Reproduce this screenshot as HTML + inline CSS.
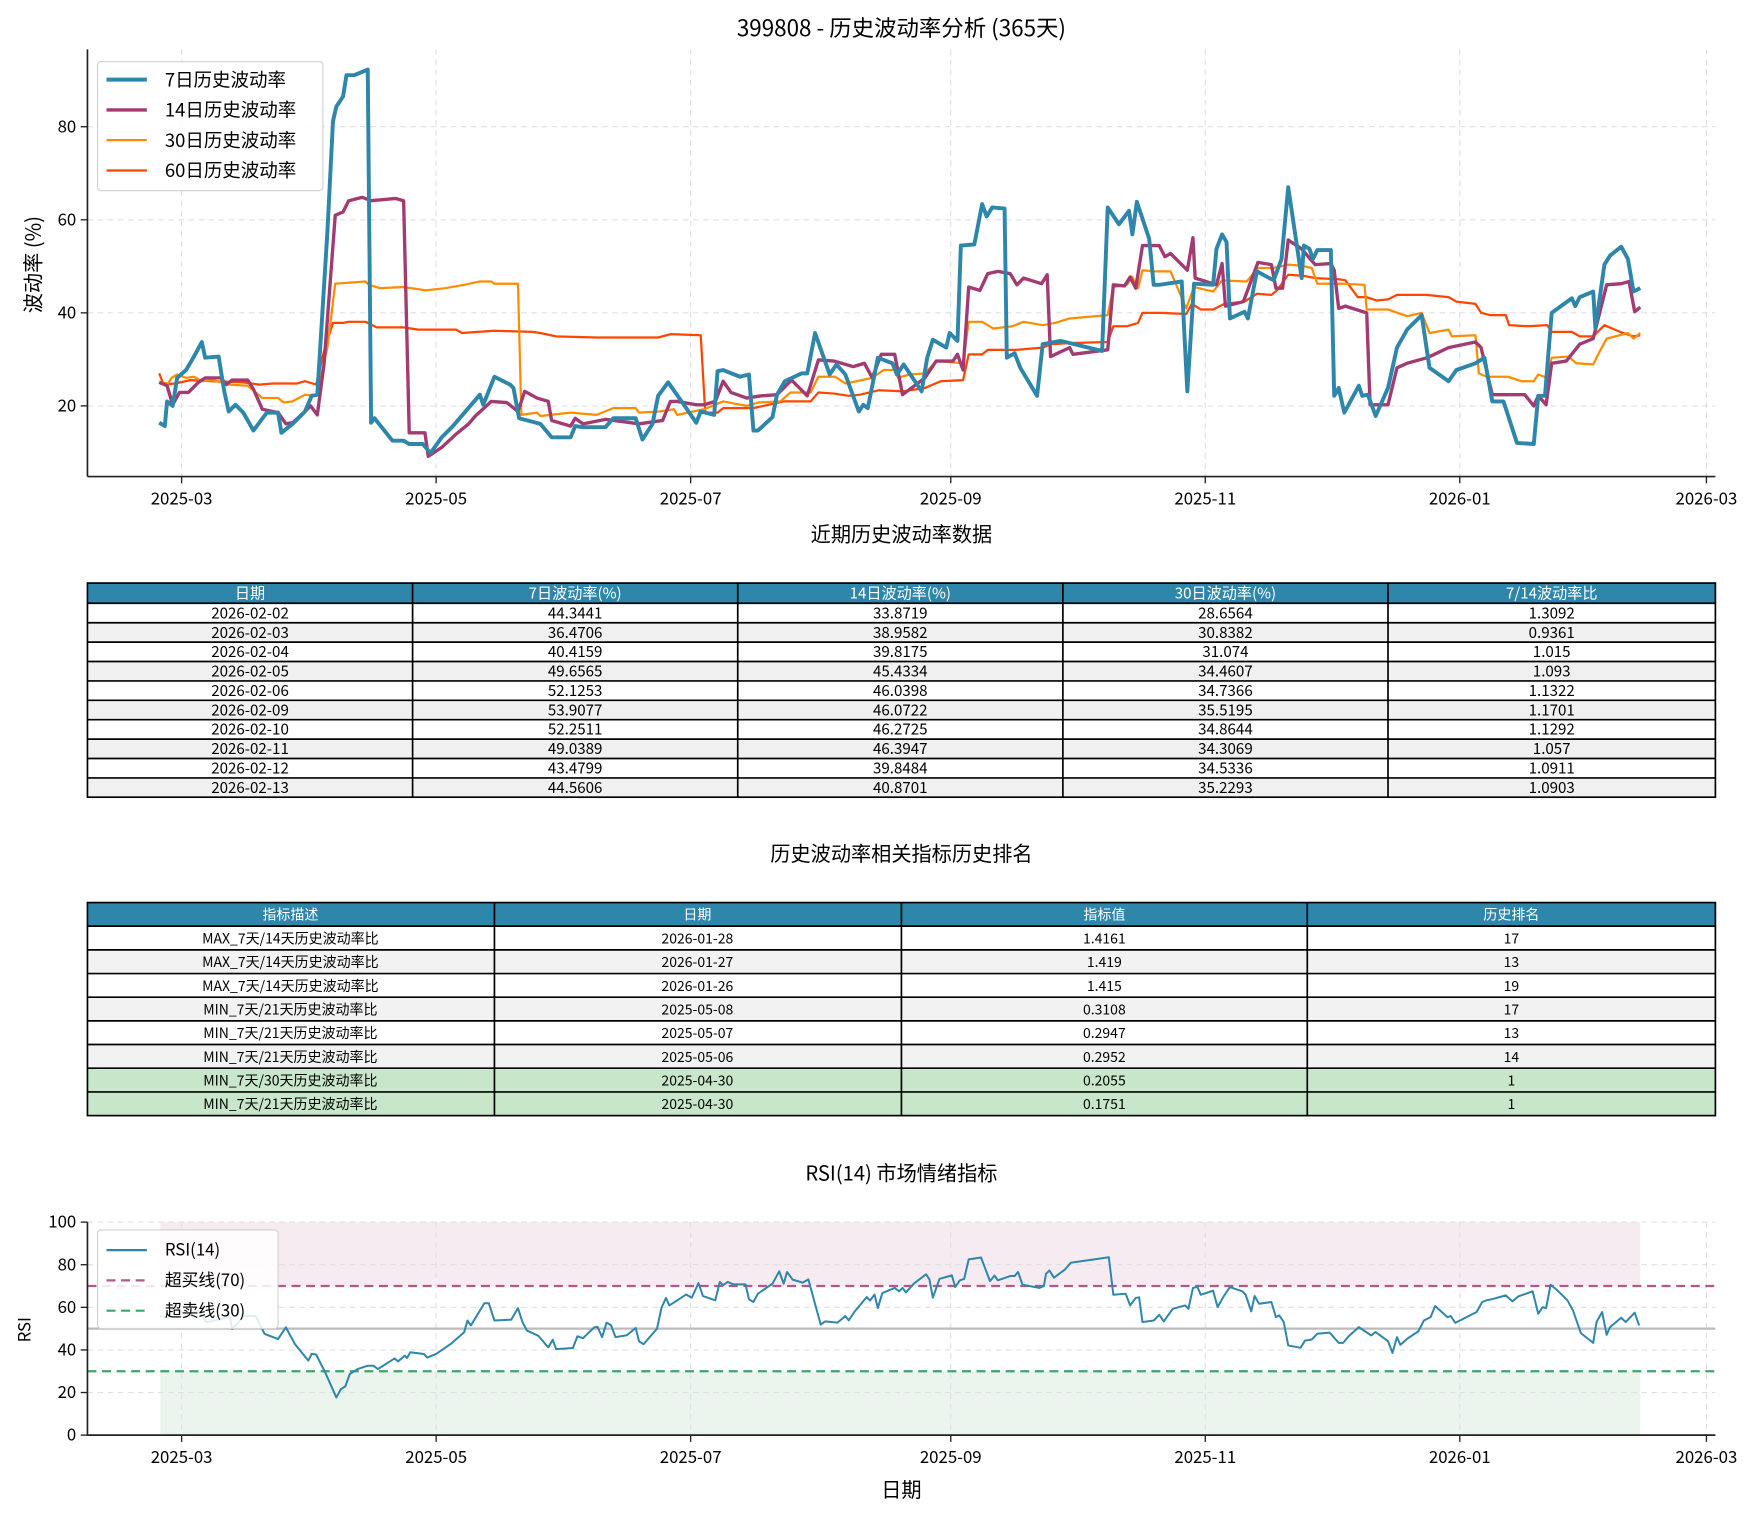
<!DOCTYPE html>
<html><head><meta charset="utf-8"><style>
html,body{margin:0;padding:0;background:#fff;}
svg{display:block;font-family:"WenQuanYi Zen Hei","Noto Sans CJK SC","Liberation Sans",sans-serif;}
</style></head><body>
<svg width="1758" height="1515" viewBox="0 0 1568 1351.2" xmlns="http://www.w3.org/2000/svg">
<rect width="1568" height="1351.2" fill="#fff"/>
<!-- TOP CHART -->
<text x="804" y="32" font-size="20" text-anchor="middle" fill="#000">399808 - 历史波动率分析 (365天)</text>
<g stroke="#e0e0e0" stroke-width="1" stroke-dasharray="5,4">
<line x1="162" y1="44" x2="162" y2="425"/><line x1="389" y1="44" x2="389" y2="425"/><line x1="616" y1="44" x2="616" y2="425"/><line x1="848" y1="44" x2="848" y2="425"/><line x1="1075" y1="44" x2="1075" y2="425"/><line x1="1302" y1="44" x2="1302" y2="425"/><line x1="1522" y1="44" x2="1522" y2="425"/>
<line x1="78" y1="113" x2="1530" y2="113"/><line x1="78" y1="196" x2="1530" y2="196"/><line x1="78" y1="279" x2="1530" y2="279"/><line x1="78" y1="362" x2="1530" y2="362"/>
</g>
<g fill="none" stroke-linejoin="round">
<polyline stroke="#ff4500" stroke-width="2" points="142,333 146,343 156,342 170,339 190,340 217,341 231,343 244,342 265,342 272,340 282,343 289,313 297,288 306,288 311,287 326,287 336,292 360,292 373,294 407,294 412,297 441,295 475,296 482,297 496,300 532,301 553,301 587,301 598,298 625,299 629,368 640,368 645,364 672,364 699,358 723,358 730,350 744,351 757,353 767,352 784,348 805,349 825,346 839,340 859,339 864,316 876,316 881,312 906,312 930,310 937,307 954,306 988,305 993,291 1005,291 1015,288 1019,279 1036,279 1058,280 1063,271 1071,276 1082,276 1092,271 1110,269 1121,262 1134,263 1139,259 1149,245 1163,246 1173,248 1194,249 1200,250 1211,265 1219,265 1228,268 1238,267 1246,263 1272,263 1292,265 1299,269 1316,271 1321,279 1329,281 1343,281 1346,290 1363,291 1380,290 1384,296 1402,296 1409,300 1421,300 1431,290 1445,296 1457,300 1463,299"/>
<polyline stroke="#ff8c00" stroke-width="2" points="142,341 150,342 153,337 158,334 166,337 173,336 180,340 190,339 204,343 221,344 234,355 248,355 253,359 261,358 272,352 282,353 292,310 299,253 326,251 329,254 339,257 360,256 380,259 397,257 414,254 428,251 438,251 441,253 462,253 465,370 479,368 482,371 509,368 532,370 547,364 567,364 570,368 588,367 601,365 604,370 628,365 645,358 666,362 676,359 696,358 705,350 723,350 730,336 745,336 754,342 764,340 778,337 788,330 798,330 801,337 811,334 825,333 835,322 859,324 864,287 876,287 886,293 903,291 913,287 930,290 941,288 954,284 988,281 993,256 1005,254 1010,247 1015,257 1019,241 1029,242 1044,242 1058,275 1065,256 1082,260 1090,250 1112,251 1122,239 1136,239 1149,236 1161,237 1170,239 1175,253 1197,253 1217,254 1219,276 1238,276 1255,282 1268,279 1275,297 1292,294 1295,300 1316,299 1319,333 1326,336 1345,336 1357,340 1368,340 1372,334 1380,337 1384,319 1399,318 1406,324 1421,325 1426,315 1433,302 1452,297 1457,302 1463,297"/>
<polyline stroke="#a23b72" stroke-width="3" points="142,341 149,344 154,361 160,350 168,350 177,341 183,337 197,337 202,343 207,339 221,339 226,347 234,365 248,368 255,378 261,377 272,367 277,362 283,370 289,325 299,192 306,189 311,179 323,176 331,179 353,177 360,179 365,386 379,386 382,407 394,399 407,387 418,378 424,371 435,361 438,358 452,359 462,367 468,349 479,355 489,358 492,375 509,380 513,373 520,378 540,374 570,378 591,375 598,358 604,358 621,361 628,361 638,358 645,340 652,350 666,355 679,353 693,352 706,339 720,353 730,321 744,322 761,327 771,324 778,337 786,316 798,316 805,352 825,337 835,322 850,322 854,316 859,330 864,256 874,259 881,244 890,242 901,244 907,254 913,248 929,253 934,245 937,318 954,310 957,316 988,312 993,254 1003,255 1008,247 1013,257 1019,219 1034,219 1039,229 1044,226 1059,241 1064,212 1066,248 1085,254 1090,235 1093,273 1109,269 1122,234 1134,236 1138,257 1144,257 1149,214 1161,222 1173,236 1187,235 1190,241 1194,275 1200,273 1219,279 1222,361 1238,361 1246,328 1255,324 1273,319 1292,310 1316,305 1321,310 1331,352 1360,352 1368,362 1372,353 1379,361 1384,324 1397,322 1409,307 1421,302 1433,254 1446,253 1453,251 1458,278 1463,274"/>
<polyline stroke="#2e86ab" stroke-width="3.5" points="142,377 147,380 149,358 154,362 158,337 166,330 173,318 180,305 183,319 195,318 200,349 204,367 210,361 217,368 226,384 238,368 248,368 251,386 261,378 272,367 278,353 283,352 292,207 297,108 300,95 306,86 309,67 316,67 328,62 331,377 334,373 350,393 360,393 365,396 377,396 384,404 394,390 404,380 428,352 431,361 441,336 455,343 458,346 463,373 482,378 492,390 509,390 513,380 520,381 540,381 547,373 567,373 573,392 582,378 587,353 596,341 610,361 621,377 625,367 637,370 640,331 645,330 660,336 668,334 672,384 676,384 689,372 693,352 700,340 715,333 720,333 727,297 734,317 740,334 746,325 754,334 766,367 770,361 774,364 783,319 796,324 800,334 806,325 814,337 822,349 827,319 832,303 844,310 847,297 854,304 857,219 869,218 876,182 880,193 885,185 896,186 898,319 905,315 910,328 925,353 930,307 946,304 983,313 988,185 998,200 1007,188 1010,209 1014,180 1025,213 1029,254 1034,254 1054,251 1059,349 1065,253 1082,254 1085,222 1090,209 1094,216 1097,284 1110,278 1113,284 1121,242 1136,250 1143,231 1149,167 1161,248 1163,219 1168,222 1171,231 1175,223 1187,223 1190,353 1194,346 1199,368 1212,344 1215,353 1220,352 1227,371 1238,346 1246,310 1255,294 1268,281 1275,328 1292,340 1299,330 1316,324 1324,319 1331,358 1341,358 1353,395 1368,396 1372,353 1378,353 1384,279 1402,266 1405,273 1409,265 1421,260 1423,293 1431,236 1436,228 1446,220 1452,231 1457,260 1463,257"/>
</g>
<g stroke="#222" stroke-width="1.5" fill="none"><line x1="78" y1="44" x2="78" y2="425"/><line x1="78" y1="425" x2="1530" y2="425"/></g>
<g stroke="#222" stroke-width="1.2">
<line x1="72" y1="113" x2="78" y2="113"/><line x1="72" y1="196" x2="78" y2="196"/><line x1="72" y1="279" x2="78" y2="279"/><line x1="72" y1="362" x2="78" y2="362"/>
<line x1="162" y1="425" x2="162" y2="431"/><line x1="389" y1="425" x2="389" y2="431"/><line x1="616" y1="425" x2="616" y2="431"/><line x1="848" y1="425" x2="848" y2="431"/><line x1="1075" y1="425" x2="1075" y2="431"/><line x1="1302" y1="425" x2="1302" y2="431"/><line x1="1522" y1="425" x2="1522" y2="431"/>
</g>
<g font-size="15" fill="#000" text-anchor="end"><text x="68" y="118">80</text><text x="68" y="201">60</text><text x="68" y="284">40</text><text x="68" y="367">20</text></g>
<g font-size="15" fill="#000" text-anchor="middle"><text x="162" y="450">2025-03</text><text x="389" y="450">2025-05</text><text x="616" y="450">2025-07</text><text x="848" y="450">2025-09</text><text x="1075" y="450">2025-11</text><text x="1302" y="450">2026-01</text><text x="1522" y="450">2026-03</text></g>
<text transform="translate(36,236) rotate(-90)" font-size="18" text-anchor="middle">波动率 (%)</text>
<rect x="87" y="55" width="201" height="115" rx="3" fill="#fff" fill-opacity="0.85" stroke="#d0d0d0"/>
<line x1="95" y1="71" x2="131" y2="71" stroke="#2e86ab" stroke-width="3.5"/>
<line x1="95" y1="98" x2="131" y2="98" stroke="#a23b72" stroke-width="3"/>
<line x1="95" y1="125" x2="131" y2="125" stroke="#ff8c00" stroke-width="2"/>
<line x1="95" y1="152" x2="131" y2="152" stroke="#ff4500" stroke-width="2"/>
<g font-size="16.5" fill="#000"><text x="147" y="77">7日历史波动率</text><text x="147" y="104">14日历史波动率</text><text x="147" y="131">30日历史波动率</text><text x="147" y="158">60日历史波动率</text></g>

<!-- TABLE 1 -->
<text x="804" y="483" font-size="18" text-anchor="middle">近期历史波动率数据</text>
<g font-size="13.5" text-anchor="middle" fill="#000">
<rect x="78" y="520" width="1452" height="18" fill="#2e86ab"/>
<g fill="#fff"><text x="223" y="534">日期</text><text x="513" y="534">7日波动率(%)</text><text x="803" y="534">14日波动率(%)</text><text x="1093" y="534">30日波动率(%)</text><text x="1384" y="534">7/14波动率比</text></g>
<rect x="78" y="555.4" width="1452" height="17.3" fill="#f0f0f0"/>
<rect x="78" y="590" width="1452" height="17.3" fill="#f0f0f0"/>
<rect x="78" y="624.6" width="1452" height="17.3" fill="#f0f0f0"/>
<rect x="78" y="659.2" width="1452" height="17.3" fill="#f0f0f0"/>
<rect x="78" y="693.8" width="1452" height="17.3" fill="#f0f0f0"/>
<g stroke="#000" stroke-width="1.5" fill="none">
<rect x="78" y="520" width="1452" height="191"/>
<line x1="78" y1="538" x2="1530" y2="538"/><line x1="78" y1="555.4" x2="1530" y2="555.4"/><line x1="78" y1="572.7" x2="1530" y2="572.7"/><line x1="78" y1="590" x2="1530" y2="590"/><line x1="78" y1="607.3" x2="1530" y2="607.3"/><line x1="78" y1="624.6" x2="1530" y2="624.6"/><line x1="78" y1="641.9" x2="1530" y2="641.9"/><line x1="78" y1="659.2" x2="1530" y2="659.2"/><line x1="78" y1="676.5" x2="1530" y2="676.5"/><line x1="78" y1="693.8" x2="1530" y2="693.8"/>
<line x1="368" y1="520" x2="368" y2="711"/><line x1="658" y1="520" x2="658" y2="711"/><line x1="948" y1="520" x2="948" y2="711"/><line x1="1238" y1="520" x2="1238" y2="711"/>
</g>
<g><text x="223" y="551.5">2026-02-02</text><text x="513" y="551.5">44.3441</text><text x="803" y="551.5">33.8719</text><text x="1093" y="551.5">28.6564</text><text x="1384" y="551.5">1.3092</text></g>
<g><text x="223" y="568.8">2026-02-03</text><text x="513" y="568.8">36.4706</text><text x="803" y="568.8">38.9582</text><text x="1093" y="568.8">30.8382</text><text x="1384" y="568.8">0.9361</text></g>
<g><text x="223" y="586.1">2026-02-04</text><text x="513" y="586.1">40.4159</text><text x="803" y="586.1">39.8175</text><text x="1093" y="586.1">31.074</text><text x="1384" y="586.1">1.015</text></g>
<g><text x="223" y="603.4">2026-02-05</text><text x="513" y="603.4">49.6565</text><text x="803" y="603.4">45.4334</text><text x="1093" y="603.4">34.4607</text><text x="1384" y="603.4">1.093</text></g>
<g><text x="223" y="620.7">2026-02-06</text><text x="513" y="620.7">52.1253</text><text x="803" y="620.7">46.0398</text><text x="1093" y="620.7">34.7366</text><text x="1384" y="620.7">1.1322</text></g>
<g><text x="223" y="638">2026-02-09</text><text x="513" y="638">53.9077</text><text x="803" y="638">46.0722</text><text x="1093" y="638">35.5195</text><text x="1384" y="638">1.1701</text></g>
<g><text x="223" y="655.3">2026-02-10</text><text x="513" y="655.3">52.2511</text><text x="803" y="655.3">46.2725</text><text x="1093" y="655.3">34.8644</text><text x="1384" y="655.3">1.1292</text></g>
<g><text x="223" y="672.6">2026-02-11</text><text x="513" y="672.6">49.0389</text><text x="803" y="672.6">46.3947</text><text x="1093" y="672.6">34.3069</text><text x="1384" y="672.6">1.057</text></g>
<g><text x="223" y="689.9">2026-02-12</text><text x="513" y="689.9">43.4799</text><text x="803" y="689.9">39.8484</text><text x="1093" y="689.9">34.5336</text><text x="1384" y="689.9">1.0911</text></g>
<g><text x="223" y="707.2">2026-02-13</text><text x="513" y="707.2">44.5606</text><text x="803" y="707.2">40.8701</text><text x="1093" y="707.2">35.2293</text><text x="1384" y="707.2">1.0903</text></g>
</g>

<!-- TABLE 2 -->
<text x="804" y="768" font-size="18" text-anchor="middle">历史波动率相关指标历史排名</text>
<g font-size="12.5" text-anchor="middle" fill="#000">
<rect x="78" y="805" width="1452" height="21" fill="#2e86ab"/>
<g fill="#fff"><text x="259" y="820">指标描述</text><text x="622" y="820">日期</text><text x="985" y="820">指标值</text><text x="1348" y="820">历史排名</text></g>
<rect x="78" y="847.2" width="1452" height="21.1" fill="#f2f2f2"/>
<rect x="78" y="889.4" width="1452" height="21.1" fill="#f2f2f2"/>
<rect x="78" y="931.6" width="1452" height="21.1" fill="#f2f2f2"/>
<rect x="78" y="952.7" width="1452" height="42.3" fill="#c8e6c9"/>
<g stroke="#000" stroke-width="1.5" fill="none">
<rect x="78" y="805" width="1452" height="190"/>
<line x1="78" y1="826" x2="1530" y2="826"/><line x1="78" y1="847.2" x2="1530" y2="847.2"/><line x1="78" y1="868.3" x2="1530" y2="868.3"/><line x1="78" y1="889.4" x2="1530" y2="889.4"/><line x1="78" y1="910.5" x2="1530" y2="910.5"/><line x1="78" y1="931.6" x2="1530" y2="931.6"/><line x1="78" y1="952.7" x2="1530" y2="952.7"/><line x1="78" y1="973.9" x2="1530" y2="973.9"/>
<line x1="441" y1="805" x2="441" y2="995"/><line x1="804" y1="805" x2="804" y2="995"/><line x1="1166" y1="805" x2="1166" y2="995"/>
</g>
<g><text x="259" y="841.5">MAX_7天/14天历史波动率比</text><text x="622" y="841.5">2026-01-28</text><text x="985" y="841.5">1.4161</text><text x="1348" y="841.5">17</text></g>
<g><text x="259" y="862.6">MAX_7天/14天历史波动率比</text><text x="622" y="862.6">2026-01-27</text><text x="985" y="862.6">1.419</text><text x="1348" y="862.6">13</text></g>
<g><text x="259" y="883.7">MAX_7天/14天历史波动率比</text><text x="622" y="883.7">2026-01-26</text><text x="985" y="883.7">1.415</text><text x="1348" y="883.7">19</text></g>
<g><text x="259" y="904.8">MIN_7天/21天历史波动率比</text><text x="622" y="904.8">2025-05-08</text><text x="985" y="904.8">0.3108</text><text x="1348" y="904.8">17</text></g>
<g><text x="259" y="925.9">MIN_7天/21天历史波动率比</text><text x="622" y="925.9">2025-05-07</text><text x="985" y="925.9">0.2947</text><text x="1348" y="925.9">13</text></g>
<g><text x="259" y="947">MIN_7天/21天历史波动率比</text><text x="622" y="947">2025-05-06</text><text x="985" y="947">0.2952</text><text x="1348" y="947">14</text></g>
<g><text x="259" y="968.2">MIN_7天/30天历史波动率比</text><text x="622" y="968.2">2025-04-30</text><text x="985" y="968.2">0.2055</text><text x="1348" y="968.2">1</text></g>
<g><text x="259" y="989.3">MIN_7天/21天历史波动率比</text><text x="622" y="989.3">2025-04-30</text><text x="985" y="989.3">0.1751</text><text x="1348" y="989.3">1</text></g>
</g>

<!-- RSI CHART -->
<text x="804" y="1053" font-size="18" text-anchor="middle">RSI(14) 市场情绪指标</text>
<rect x="143" y="1090" width="1320" height="57" fill="#a23b72" fill-opacity="0.1"/>
<rect x="143" y="1223" width="1320" height="57" fill="#3a9d5d" fill-opacity="0.1"/>
<g stroke="#e0e0e0" stroke-width="1" stroke-dasharray="5,4">
<line x1="162" y1="1090" x2="162" y2="1280"/><line x1="389" y1="1090" x2="389" y2="1280"/><line x1="616" y1="1090" x2="616" y2="1280"/><line x1="848" y1="1090" x2="848" y2="1280"/><line x1="1075" y1="1090" x2="1075" y2="1280"/><line x1="1302" y1="1090" x2="1302" y2="1280"/><line x1="1522" y1="1090" x2="1522" y2="1280"/>
<line x1="78" y1="1090" x2="1530" y2="1090"/><line x1="78" y1="1128" x2="1530" y2="1128"/><line x1="78" y1="1166" x2="1530" y2="1166"/><line x1="78" y1="1204" x2="1530" y2="1204"/><line x1="78" y1="1242" x2="1530" y2="1242"/>
</g>
<line x1="78" y1="1185" x2="1530" y2="1185" stroke="#bbb" stroke-width="2"/>
<line x1="78" y1="1147" x2="1530" y2="1147" stroke="#b5578a" stroke-width="2" stroke-dasharray="8,5"/>
<line x1="78" y1="1223" x2="1530" y2="1223" stroke="#3aa66a" stroke-width="2" stroke-dasharray="8,5"/>
<g transform="translate(0,1280) scale(1,-1.9)">
<polyline fill="none" stroke="#2e86ab" stroke-width="2" vector-effect="non-scaling-stroke" stroke-linejoin="round" points="143,56 150,55 155,61.6 162,57.7 170,56.9 177,58.5 184,53 198,54.5 205,56 207,49.8 218,56 228,56 236,47.5 248,45.1 255,50.6 263,42.8 275,35 278,38.2 282,37.8 290,29.5 300,17.7 304,21.6 308,22.9 312,28.7 319,31 328,32.6 333,32.6 337,31 352,36 355,34.6 361,37.3 363,36.2 366,38.9 378,38.1 381,36.4 389,38.1 402,42.8 414,48.3 417,53.8 420,51.5 432,61.9 436,61.9 441,53.8 456,54.2 462,59.6 466,53 470,49.1 480,46.7 489,41.2 493,44.8 496,40.4 511,40.9 515,46.4 520,45.5 530,50.6 533,50.8 537,46 541,52.8 545,51.6 549,46 559,46.9 567,50.3 570,44 574,42.7 586,50 590,59.8 594,64.4 597,60.9 612,66 617,64.5 623,71.4 627,65.3 638,63.3 642,71.9 645,70.4 649,71.9 654,70.8 665,70.8 668,63.8 672,62.5 676,66.4 689,71.1 695,76.9 699,71.1 702,76.6 707,73 716,71.6 721,73.1 732,51.9 736,53.4 747,52.8 754,55.9 757,53.9 762,57.8 773,64.8 776,63.2 780,66 783,59.7 787,66.7 798,69.1 802,67.5 805,69.1 808,67 815,71.1 826,75.5 829,73.1 832,64.5 838,73.4 849,75 852,69.5 856,72.6 860,73.4 864,82.5 875,83.4 883,72.3 887,74.9 890,72.7 901,74.7 905,74.7 908,76.6 912,70.6 927,69.1 931,70 933,75.8 936,77.3 940,73.9 950,77.8 955,80.9 989,83.5 993,65.9 1004,66.4 1008,60.9 1013,64.4 1016,64.7 1019,53.1 1029,53.8 1034,56.5 1038,53.4 1046,59.3 1057,60.9 1060,59.3 1064,69.1 1068,69.6 1071,65.9 1082,67.8 1086,60.1 1091,64.8 1097,69.5 1108,67.5 1111,65.9 1116,58.1 1119,65.3 1123,61.7 1134,62.5 1138,55.4 1141,56.2 1145,53.1 1149,42.1 1160,41 1164,44.4 1170,44.9 1175,47.6 1186,48.1 1194,43.3 1198,43.3 1203,46.5 1212,50.7 1223,46.8 1227,48.4 1238,44.1 1242,38.6 1246,46 1249,42.4 1255,45.2 1265,48.7 1270,53.8 1276,55.4 1280,60.6 1291,55.4 1294,55.9 1298,52.7 1317,57.8 1322,62.5 1326,63.3 1332,64 1343,65.6 1349,62.8 1354,65.1 1367,67.5 1372,57 1376,60.1 1379,59.6 1383,70.6 1389,68 1398,63.3 1403,58.5 1410,47.9 1421,43.3 1424,53.1 1429,57.8 1433,47.1 1436,50.7 1446,55.1 1450,53.1 1458,57.5 1462,51.5"/>
</g>
<g stroke="#222" stroke-width="1.5" fill="none"><line x1="78" y1="1090" x2="78" y2="1280"/><line x1="78" y1="1280" x2="1530" y2="1280"/></g>
<g stroke="#222" stroke-width="1.2">
<line x1="72" y1="1090" x2="78" y2="1090"/><line x1="72" y1="1128" x2="78" y2="1128"/><line x1="72" y1="1166" x2="78" y2="1166"/><line x1="72" y1="1204" x2="78" y2="1204"/><line x1="72" y1="1242" x2="78" y2="1242"/><line x1="72" y1="1280" x2="78" y2="1280"/>
<line x1="162" y1="1280" x2="162" y2="1286"/><line x1="389" y1="1280" x2="389" y2="1286"/><line x1="616" y1="1280" x2="616" y2="1286"/><line x1="848" y1="1280" x2="848" y2="1286"/><line x1="1075" y1="1280" x2="1075" y2="1286"/><line x1="1302" y1="1280" x2="1302" y2="1286"/><line x1="1522" y1="1280" x2="1522" y2="1286"/>
</g>
<g font-size="15" fill="#000" text-anchor="end"><text x="68" y="1095">100</text><text x="68" y="1133">80</text><text x="68" y="1171">60</text><text x="68" y="1209">40</text><text x="68" y="1247">20</text><text x="68" y="1285">0</text></g>
<g font-size="15" fill="#000" text-anchor="middle"><text x="162" y="1305">2025-03</text><text x="389" y="1305">2025-05</text><text x="616" y="1305">2025-07</text><text x="848" y="1305">2025-09</text><text x="1075" y="1305">2025-11</text><text x="1302" y="1305">2026-01</text><text x="1522" y="1305">2026-03</text></g>
<text transform="translate(27,1186) rotate(-90)" font-size="15" text-anchor="middle">RSI</text>
<text x="804" y="1335" font-size="18" text-anchor="middle">日期</text>
<rect x="87" y="1097" width="161" height="88" rx="3" fill="#fff" fill-opacity="0.85" stroke="#d0d0d0"/>
<line x1="95" y1="1115" x2="131" y2="1115" stroke="#2e86ab" stroke-width="2"/>
<line x1="95" y1="1142" x2="131" y2="1142" stroke="#b5578a" stroke-width="2" stroke-dasharray="8,5"/>
<line x1="95" y1="1169" x2="131" y2="1169" stroke="#3aa66a" stroke-width="2" stroke-dasharray="8,5"/>
<g font-size="15" fill="#000"><text x="147" y="1120">RSI(14)</text><text x="147" y="1147">超买线(70)</text><text x="147" y="1174">超卖线(30)</text></g>
</svg>
</body></html>
